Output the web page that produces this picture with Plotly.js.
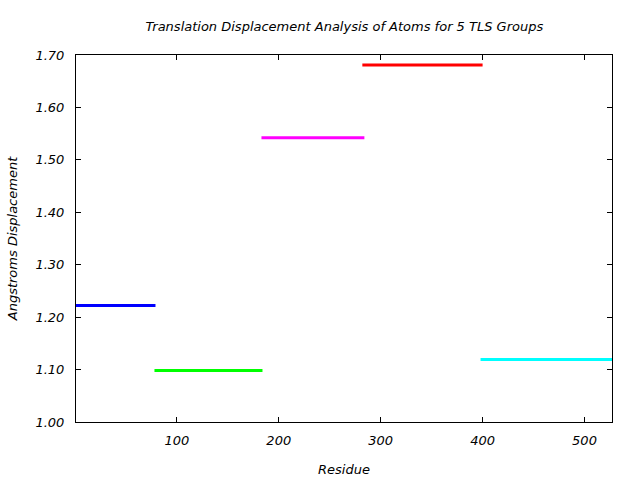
<!DOCTYPE html>
<html>
<head>
<meta charset="utf-8">
<script src="https://cdn.plot.ly/plotly-3.0.1.min.js"></script>
<style>html,body{margin:0;padding:0;background:#fff;}#chart{width:640px;height:480px;}</style>
</head>
<body>
<div id="chart"></div>
<script>
const groupStart = [1, 78, 183, 282, 398];
const groupEnd = [79, 184, 284, 400, 527];
const displacement = [1.222, 1.098, 1.542, 1.681, 1.119];
const groupColors = ['#0000ff', '#00ff00', '#ff00ff', '#ff0000', '#00ffff'];
const yTicks = [1.00, 1.10, 1.20, 1.30, 1.40, 1.50, 1.60, 1.70];
const xTicks = [100, 200, 300, 400, 500];

const traces = groupStart.map((s, i) => ({
  type: 'scatter', mode: 'lines',
  x: [s, groupEnd[i]], y: [displacement[i], displacement[i]],
  line: {color: groupColors[i], width: 3},
  showlegend: false, hoverinfo: 'skip'
}));

const font = {family: 'DejaVu Sans, sans-serif', size: 13, color: '#000', style: 'italic'};

const layout = {
  width: 640, height: 480,
  margin: {l: 76, r: 28, t: 55, b: 58},
  paper_bgcolor: '#fff', plot_bgcolor: '#fff',
  font: font,
  title: {text: 'Translation Displacement Analysis of Atoms for 5 TLS Groups', x: 0.538, xanchor: 'center', y: 0.944, yanchor: 'middle', font: font},
  xaxis: {
    range: [1, 527], tickvals: xTicks, ticktext: xTicks.map(String),
    ticks: 'inside', ticklen: 5, tickwidth: 1, tickcolor: '#000',
    showline: true, linecolor: '#000', linewidth: 1, mirror: 'ticks',
    showgrid: false, zeroline: false, tickfont: font, ticklabelstandoff: 6,
    title: {text: 'Residue', font: font, standoff: 18}
  },
  yaxis: {
    range: [1.0, 1.7], tickvals: yTicks, ticktext: yTicks.map(v => v.toFixed(2)),
    ticks: 'inside', ticklen: 5, tickwidth: 1, tickcolor: '#000',
    showline: true, linecolor: '#000', linewidth: 1, mirror: 'ticks',
    showgrid: false, zeroline: false, tickfont: font, ticklabelstandoff: 8,
    title: {text: 'Angstroms Displacement', font: font, standoff: 14}
  }
};

Plotly.newPlot('chart', traces, layout, {staticPlot: true, displayModeBar: false});
</script>
</body>
</html>
